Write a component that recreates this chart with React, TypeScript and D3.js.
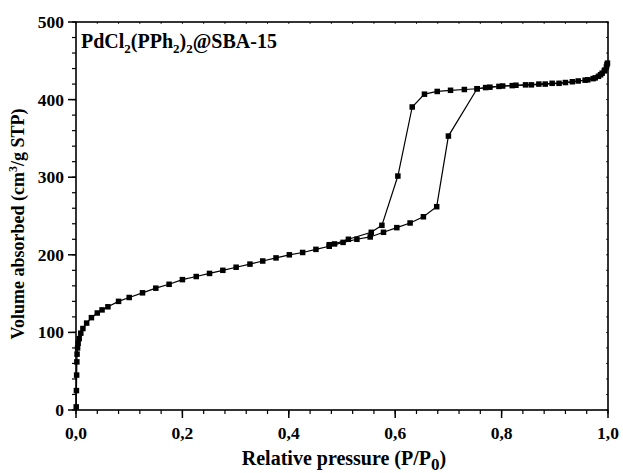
import React from "react";
import * as d3 from "d3";

const adsX = [0.0004, 0.0008, 0.0012, 0.0016, 0.002, 0.003, 0.004, 0.006, 0.009, 0.013, 0.02, 0.029, 0.04, 0.049, 0.06, 0.08, 0.1, 0.125, 0.15, 0.175, 0.2, 0.226, 0.251, 0.276, 0.301, 0.327, 0.351, 0.376, 0.401, 0.426, 0.451, 0.476, 0.502, 0.528, 0.553, 0.578, 0.603, 0.628, 0.653, 0.678, 0.7, 0.754, 0.778, 0.802, 0.827, 0.856, 0.882, 0.908, 0.933, 0.957, 0.972, 0.982, 0.989, 0.994, 0.997, 0.999];
const adsY = [4, 25, 45, 62, 72, 80, 86, 92, 99, 105, 112, 119, 125, 129, 133, 140, 145, 151, 157, 162, 168, 172, 176, 180, 184, 188, 192, 196, 200, 203, 207, 211, 216, 220, 223, 229, 235, 241, 249, 262, 353, 414, 416, 417.5, 418.5, 419, 420, 421, 423, 425, 427, 430, 434, 438, 442, 447];

const desX = [0.998, 0.993, 0.986, 0.976, 0.962, 0.944, 0.92, 0.895, 0.87, 0.845, 0.82, 0.795, 0.77, 0.754, 0.73, 0.704, 0.679, 0.655, 0.632, 0.605, 0.575, 0.555, 0.512, 0.486, 0.476];
const desY = [445, 437, 432, 428, 425.5, 424, 422, 421, 420, 419, 418, 417, 415.5, 414, 413, 412, 410.5, 407, 390.5, 301.5, 238, 229, 220, 214, 213];

const xTicks = [0, 0.2, 0.4, 0.6, 0.8, 1.0];
const xTickLabels = ["0,0", "0,2", "0,4", "0,6", "0,8", "1,0"];
const yTicks = [0, 100, 200, 300, 400, 500];

const W = 623, H = 473;
const M = { left: 76, right: 608, top: 22, bottom: 410 };

export default function App() {
  const x = d3.scaleLinear().domain([0, 1]).range([M.left, M.right]);
  const y = d3.scaleLinear().domain([0, 500]).range([M.bottom, M.top]);
  const line = d3.line<[number, number]>().x(d => x(d[0])).y(d => y(d[1]));
  const ads: [number, number][] = adsX.map((v, i) => [v, adsY[i]]);
  const des: [number, number][] = desX.map((v, i) => [v, desY[i]]);
  const xMinor = d3.range(0, 1.0001, 0.04);
  const yMinor = d3.range(0, 500.001, 20);
  const ms = 5.5;
  const font = "'Liberation Serif', 'Times New Roman', serif";
  return (
    <svg width={W} height={H} style={{ position: "absolute", left: 0, top: 0, background: "#fff" }}>
      <rect x={0} y={0} width={W} height={H} fill="#fff" />
      {xMinor.map((t, i) => (
        <g key={"xm" + i}>
          <line x1={x(t)} x2={x(t)} y1={M.bottom} y2={M.bottom + 4} stroke="#000" strokeWidth={1.2} />
          <line x1={x(t)} x2={x(t)} y1={M.top} y2={M.top + 2} stroke="#000" strokeWidth={0.8} />
        </g>
      ))}
      {yMinor.map((t, i) => (
        <g key={"ym" + i}>
          <line x1={M.left} x2={M.left - 4} y1={y(t)} y2={y(t)} stroke="#000" strokeWidth={1.2} />
          <line x1={M.right} x2={M.right - 2} y1={y(t)} y2={y(t)} stroke="#000" strokeWidth={0.8} />
        </g>
      ))}
      {xTicks.map((t, i) => (
        <g key={"x" + i}>
          <line x1={x(t)} x2={x(t)} y1={M.bottom} y2={M.bottom + 8} stroke="#000" strokeWidth={1.5} />
          <text x={x(t)} y={M.bottom + 29} textAnchor="middle" fontFamily={font} fontWeight="bold" fontSize={17.5}>{xTickLabels[i]}</text>
        </g>
      ))}
      {yTicks.map((t, i) => (
        <g key={"y" + i}>
          <line x1={M.left} x2={M.left - 8} y1={y(t)} y2={y(t)} stroke="#000" strokeWidth={1.5} />
          <text x={M.left - 12} y={y(t) + 6} textAnchor="end" fontFamily={font} fontWeight="bold" fontSize={17.5}>{t}</text>
        </g>
      ))}
      <rect x={M.left} y={M.top} width={M.right - M.left} height={M.bottom - M.top} fill="none" stroke="#000" strokeWidth={1.6} />
      <path d={line(ads) || ""} fill="none" stroke="#000" strokeWidth={1.2} />
      <path d={line(des) || ""} fill="none" stroke="#000" strokeWidth={1.2} />
      {ads.map((d, i) => (
        <rect key={"a" + i} x={x(d[0]) - ms / 2} y={y(d[1]) - ms / 2} width={ms} height={ms} fill="#000" />
      ))}
      {des.map((d, i) => (
        <rect key={"d" + i} x={x(d[0]) - ms / 2} y={y(d[1]) - ms / 2} width={ms} height={ms} fill="#000" />
      ))}
      <text x={81} y={48} fontFamily={font} fontWeight="bold" fontSize={20}>
        PdCl<tspan dy={5} fontSize={13}>2</tspan><tspan dy={-5}>(PPh</tspan><tspan dy={5} fontSize={13}>2</tspan><tspan dy={-5}>)</tspan><tspan dy={5} fontSize={13}>2</tspan><tspan dy={-5}>@SBA-15</tspan>
      </text>
      <text x={344} y={465} textAnchor="middle" fontFamily={font} fontWeight="bold" fontSize={20}>
        Relative pressure (P/P<tspan dy={5} fontSize={17}>0</tspan><tspan dy={-5}>)</tspan>
      </text>
      <text transform={`translate(24, ${(M.top + M.bottom) / 2 + 8}) rotate(-90)`} textAnchor="middle" fontFamily={font} fontWeight="bold" fontSize={18}>
        Volume absorbed (cm<tspan dy={-7} fontSize={12}>3</tspan><tspan dy={7}>/g STP)</tspan>
      </text>
    </svg>
  );
}
